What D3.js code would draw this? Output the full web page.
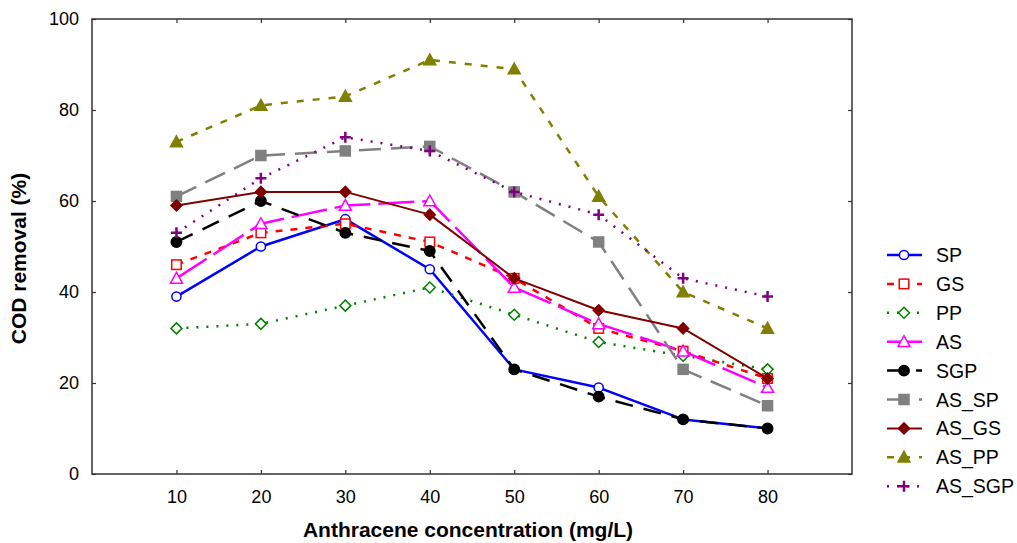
<!DOCTYPE html>
<html><head><meta charset="utf-8">
<script src="https://cdn.jsdelivr.net/npm/d3@7/dist/d3.min.js"></script>
<style>
html,body{margin:0;padding:0;background:#fff;}
svg text{font-family:"Liberation Sans",Arial,sans-serif;}
</style></head>
<body><svg id="chart" width="1017" height="543"></svg>
<script>
const concentrations = [10, 20, 30, 40, 50, 60, 70, 80];
const seriesNames = ["SP","GS","PP","AS","SGP","AS_SP","AS_GS","AS_PP","AS_SGP"];
const SP     = [39, 50, 56, 45, 23, 19, 12, 10];
const GS     = [46, 53, 55, 51, 43, 32, 27, 21];
const PP     = [32, 33, 37, 41, 35, 29, 26, 23];
const AS     = [43, 55, 59, 60, 41, 33, 27, 19];
const SGP    = [51, 60, 53, 49, 23, 17, 12, 10];
const AS_SP  = [61, 70, 71, 72, 62, 51, 23, 15];
const AS_GS  = [59, 62, 62, 57, 43, 36, 32, 21];
const AS_PP  = [73, 81, 83, 91, 89, 61, 40, 32];
const AS_SGP = [53, 65, 74, 71, 62, 57, 43, 39];
const yTicks = [0, 20, 40, 60, 80, 100];
const xLabel = "Anthracene concentration (mg/L)";
const yLabel = "COD removal (%)";

const values = {SP, GS, PP, AS, SGP, AS_SP, AS_GS, AS_PP, AS_SGP};

const styles = {
  SP:     {color:"#0000FF", dash:null,     width:2.5, marker:"circle",   fill:false},
  GS:     {color:"#FF0000", dash:"7,8",    width:2.5, marker:"square",   fill:false},
  PP:     {color:"#008000", dash:"2,8",    width:2.5, marker:"diamond",  fill:false},
  AS:     {color:"#FF00FF", dash:"36,8",   width:2.5, marker:"triangle", fill:false},
  SGP:    {color:"#000000", dash:"18,11",  width:2.5, marker:"circle",   fill:true},
  AS_SP:  {color:"#808080", dash:"22,10",  width:2.5, marker:"square",   fill:true},
  AS_GS:  {color:"#800000", dash:null,     width:2,   marker:"diamond",  fill:true},
  AS_PP:  {color:"#808000", dash:"7,9",    width:2.5, marker:"triangle", fill:true},
  AS_SGP: {color:"#800080", dash:"2,8",    width:2.5, marker:"plus",     fill:true}
};

const svg = d3.select("#chart");
const L = 92, T = 19, R = 852, B = 474;
const x = d3.scaleLinear().domain([0, 90]).range([L, R]);
const y = d3.scaleLinear().domain([0, 100]).range([B, T]);

// frame
svg.append("rect").attr("x", L).attr("y", T).attr("width", R-L).attr("height", B-T)
  .attr("fill","none").attr("stroke","#333").attr("stroke-width",1.5);

// axes with inward ticks
const axB = svg.append("g").attr("transform",`translate(0,${B})`)
  .call(d3.axisBottom(x).tickValues(concentrations).tickSize(-4).tickPadding(16).tickFormat(d3.format("d")));
const axT = svg.append("g").attr("transform",`translate(0,${T})`)
  .call(d3.axisTop(x).tickValues(concentrations).tickSize(-4).tickFormat(""));
const axL = svg.append("g").attr("transform",`translate(${L},0)`)
  .call(d3.axisLeft(y).tickValues(yTicks).tickSize(-4).tickPadding(13).tickFormat(d3.format("d")));
const axR = svg.append("g").attr("transform",`translate(${R},0)`)
  .call(d3.axisRight(y).tickValues(yTicks).tickSize(-4).tickFormat(""));
[axB, axT, axL, axR].forEach(g => {
  g.select(".domain").remove();
  g.selectAll(".tick line").attr("stroke","#333").attr("stroke-width",1.2);
  g.selectAll(".tick text").attr("font-size",18).attr("fill","#000")
    .attr("font-family","'Liberation Sans',Arial,sans-serif");
});

// titles
svg.append("text").attr("x", (L+R)/2 - 4).attr("y", 537).attr("text-anchor","middle")
  .attr("font-size",21).attr("font-weight","bold").text(xLabel);
svg.append("text").attr("transform",`translate(26,${(T+B)/2 + 12}) rotate(-90)`)
  .attr("text-anchor","middle").attr("font-size",21).attr("font-weight","bold").text(yLabel);

function drawMarker(g, type, cx, cy, st){
  const stroke = st.color, fill = st.fill ? st.color : "#fff";
  if(type==="circle"){
    g.append("circle").attr("cx",cx).attr("cy",cy).attr("r", st.fill?5.2:4.6)
      .attr("fill",fill).attr("stroke",stroke).attr("stroke-width",1.5);
  } else if(type==="square"){
    const s = st.fill?10:9.5;
    g.append("rect").attr("x",cx-s/2).attr("y",cy-s/2).attr("width",s).attr("height",s)
      .attr("fill",fill).attr("stroke",stroke).attr("stroke-width",1.5);
  } else if(type==="diamond"){
    const s = 5.5;
    g.append("path").attr("d",`M${cx},${cy-s}L${cx+s},${cy}L${cx},${cy+s}L${cx-s},${cy}Z`)
      .attr("fill",fill).attr("stroke",stroke).attr("stroke-width",1.5);
  } else if(type==="triangle"){
    const s = 6;
    g.append("path").attr("d",`M${cx},${cy-s}L${cx+s},${cy+s*0.8}L${cx-s},${cy+s*0.8}Z`)
      .attr("fill",fill).attr("stroke",stroke).attr("stroke-width",1.5);
  } else if(type==="plus"){
    const s = 5.5;
    g.append("path").attr("d",`M${cx-s},${cy}L${cx+s},${cy}M${cx},${cy-s}L${cx},${cy+s}`)
      .attr("fill","none").attr("stroke",stroke).attr("stroke-width",2.5);
  }
}

const line = d3.line().x((d,i)=>x(concentrations[i])).y(d=>y(d));
seriesNames.forEach(name => {
  const st = styles[name];
  const g = svg.append("g");
  g.append("path").datum(values[name]).attr("d", line)
    .attr("fill","none").attr("stroke",st.color).attr("stroke-width",st.width)
    .attr("stroke-dasharray", st.dash).attr("stroke-linejoin","round");
  values[name].forEach((v,i) => drawMarker(g, st.marker, x(concentrations[i]), y(v), st));
});

// legend
const legY0 = 255, legDy = 28.9;
seriesNames.forEach((name,i) => {
  const st = styles[name];
  const yy = legY0 + i*legDy;
  const g = svg.append("g");
  g.append("line").attr("x1",887).attr("x2",922).attr("y1",yy).attr("y2",yy)
    .attr("stroke",st.color).attr("stroke-width",st.width).attr("stroke-dasharray",st.dash);
  drawMarker(g, st.marker, 904, yy, st);
  g.append("text").attr("x",936).attr("y",yy+7).attr("font-size",19.5).attr("fill","#000").text(name);
});
</script></body></html>
